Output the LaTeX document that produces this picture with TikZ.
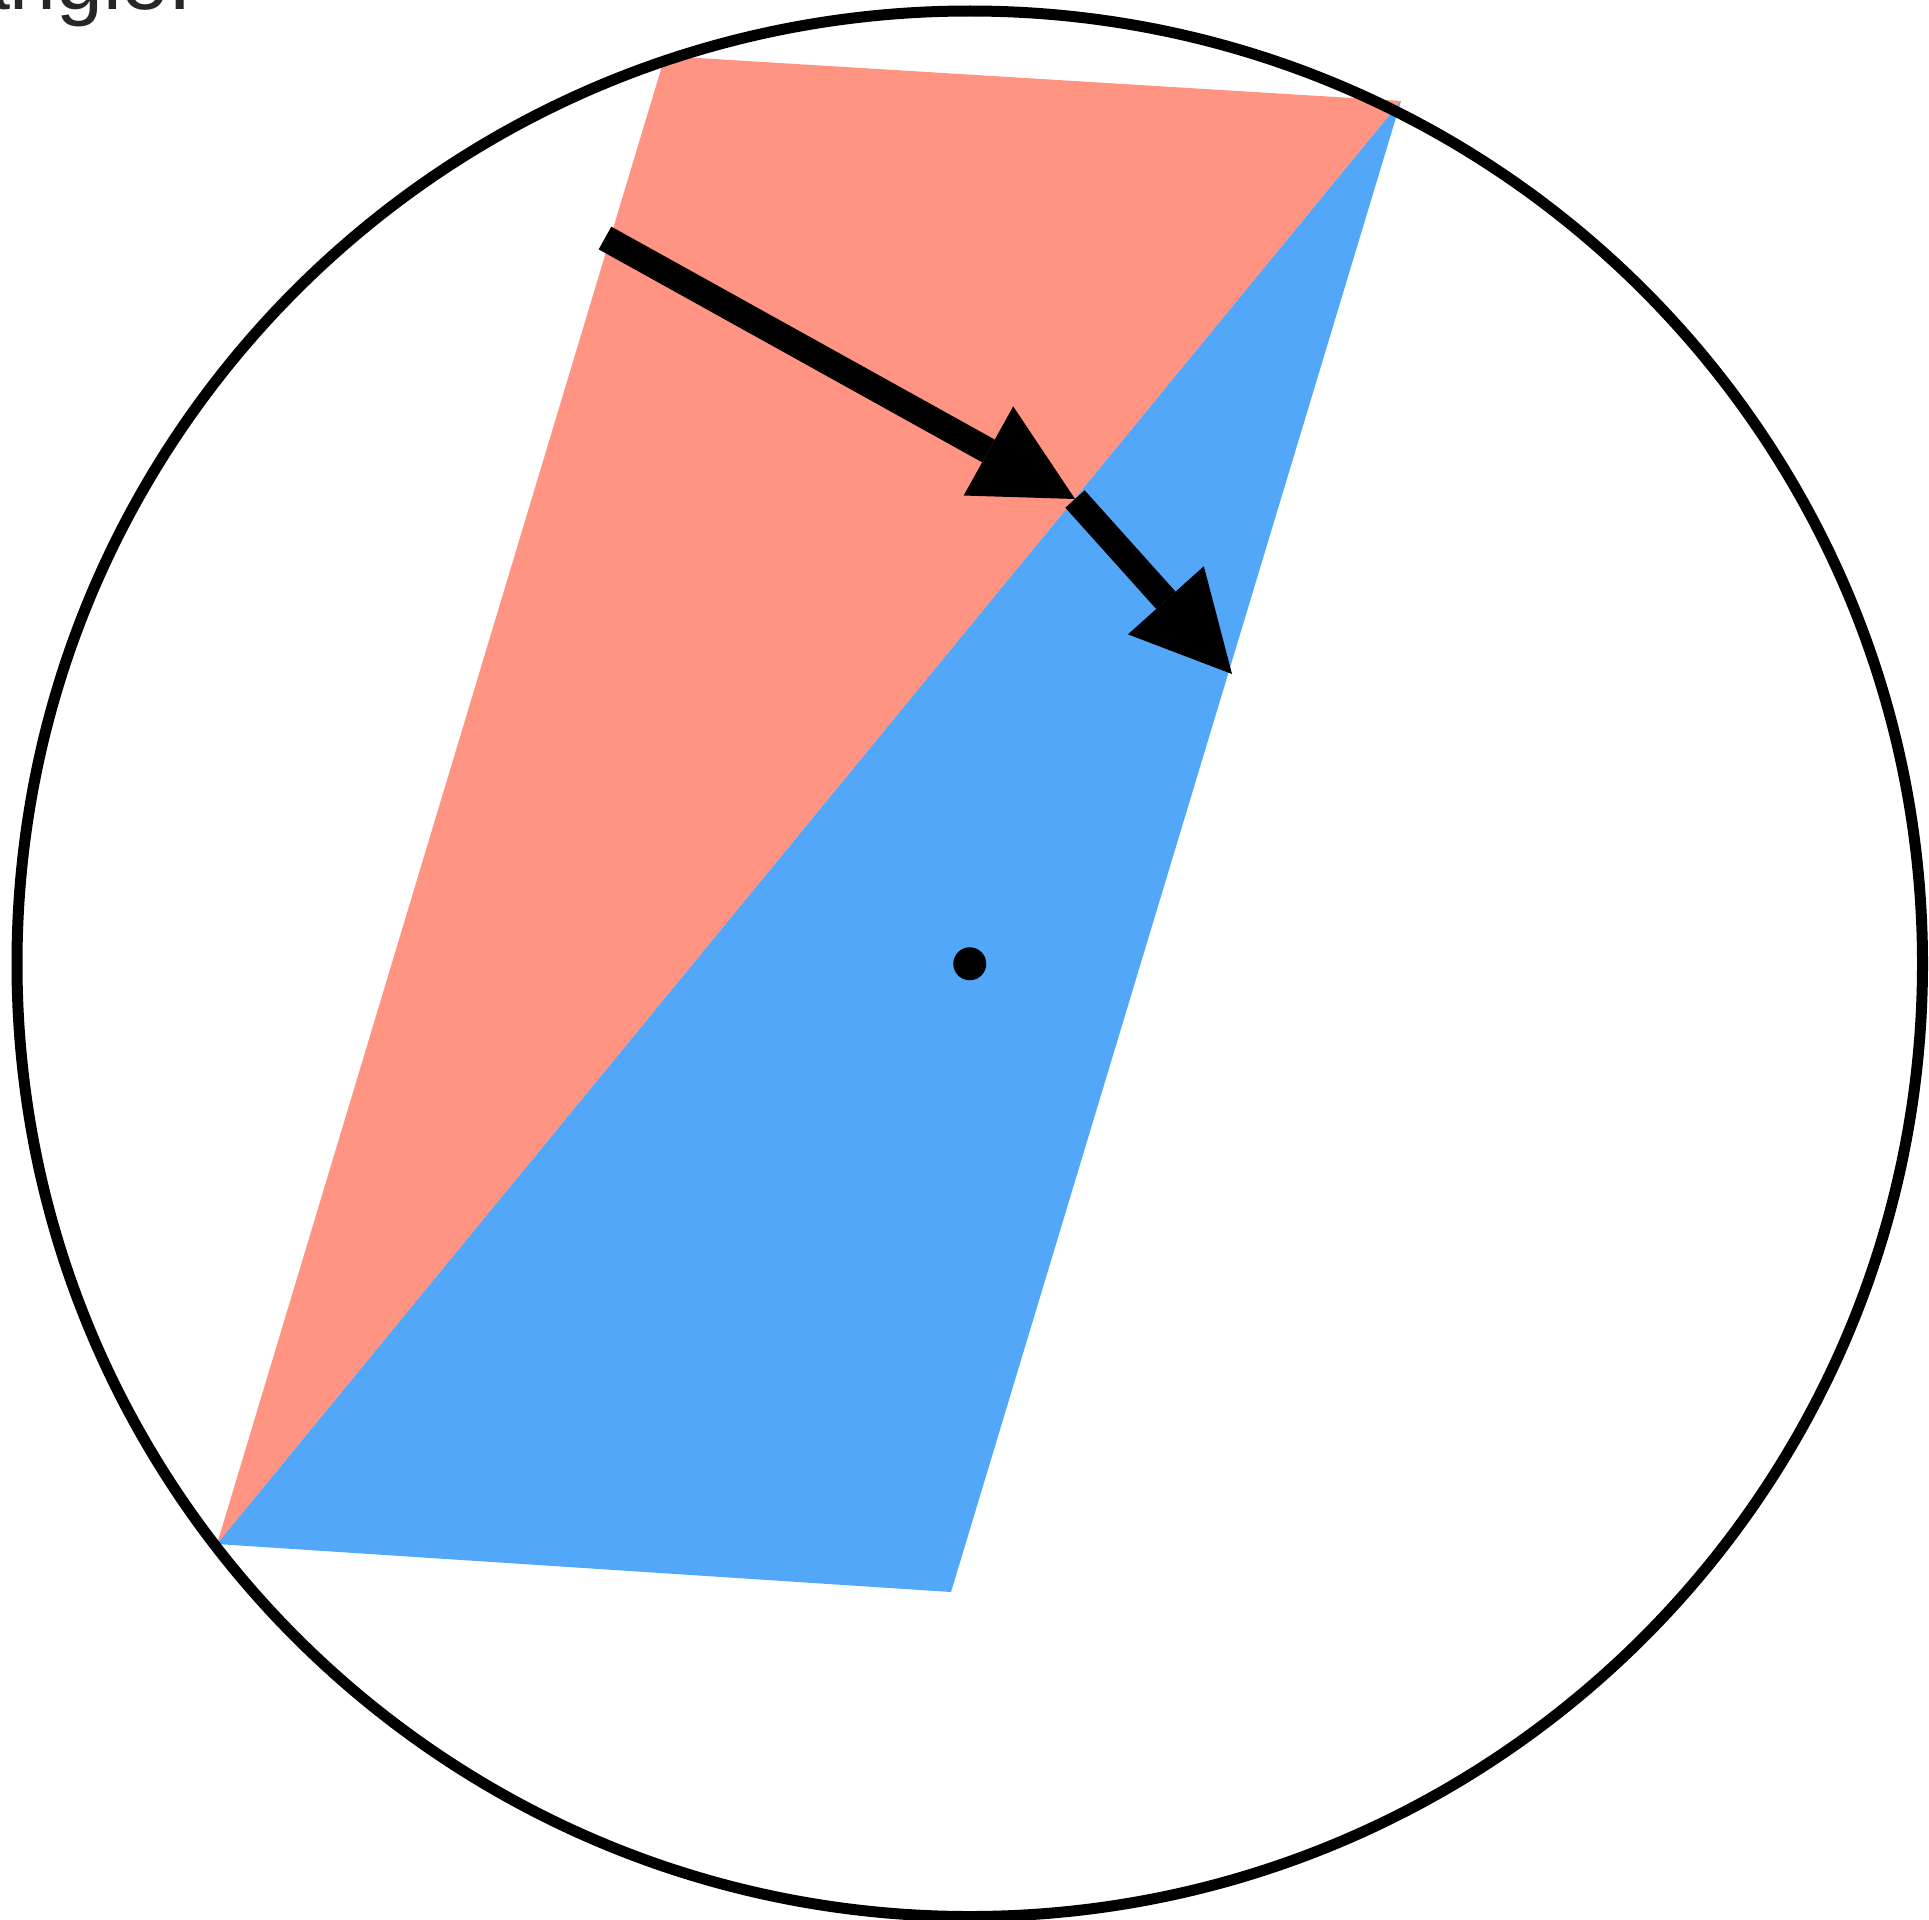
\documentclass[tikz,border=0pt]{standalone}
\usepackage{fontspec}
\setmainfont{Liberation Sans}
\usetikzlibrary{arrows.meta}
\definecolor{salmon}{HTML}{FF9482}
\definecolor{skyblue}{HTML}{52A7F9}
\definecolor{inkgray}{HTML}{262626}
\tikzset{
  ring/.style={draw=black, line width=11pt},
  bigarrow/.style={draw=black, line width=26pt, line cap=butt,
    -{Triangle[length=99pt,width=102pt,line width=0pt]}},
  pivot/.style={circle, fill=black, inner sep=0pt, minimum size=33pt},
}
\begin{document}
\begin{tikzpicture}[x=1pt,y=-1pt]
\clip (0,0) rectangle (1929,1919);
% text fragment at top-left
\node[anchor=base west, inner sep=0pt, text=inkgray, font=\fontsize{84}{100}\selectfont] (caption) at (-37,10) {angle.};
% parallelogram corners
\coordinate (A) at (665,56);
\coordinate (B) at (1401,101);
\coordinate (C) at (951,1592);
\coordinate (D) at (217,1544);
\fill[salmon] (A) -- (B) -- (D) -- cycle;
\fill[skyblue] (B) -- (C) -- (D) -- cycle;
% circle
\coordinate (O) at (969.75,963.75);
\draw[ring] (O) circle[radius=952.75];
\node[pivot] (dot) at (O) {};
% arrows
\coordinate (s1) at (605,238);
\coordinate (t1) at (1075,499);
\coordinate (t2) at (1232,674);
\draw[bigarrow] (s1) -- (t1);
\draw[bigarrow] (t1) -- (t2);
\end{tikzpicture}
\end{document}
